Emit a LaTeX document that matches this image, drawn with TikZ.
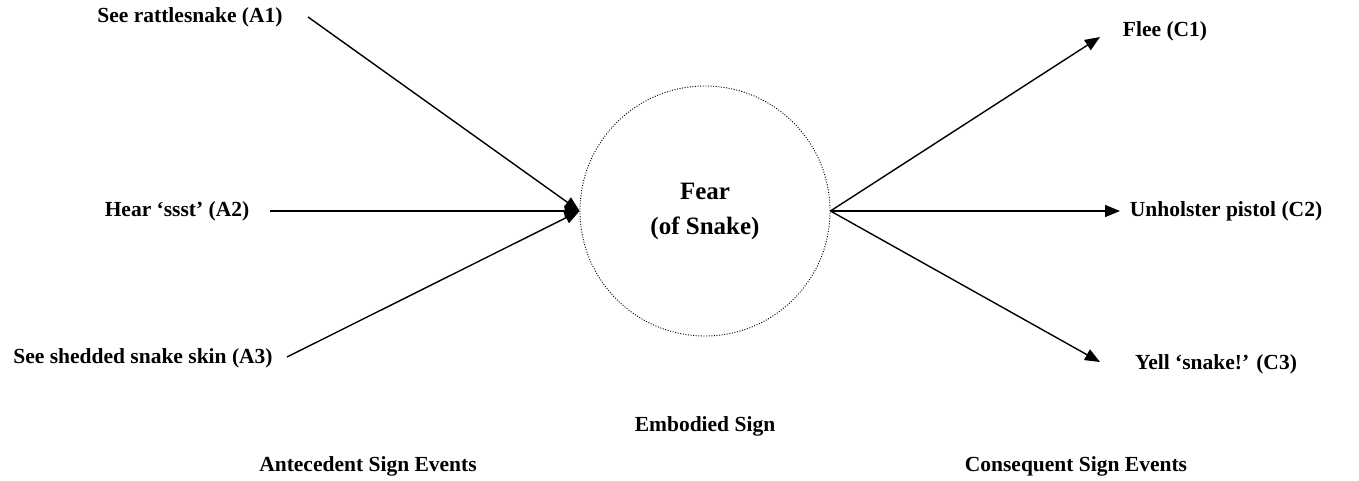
\documentclass[tikz,border=0pt]{standalone}
\usepackage{fontspec}
\setmainfont{Liberation Serif}
\usetikzlibrary{arrows.meta}
\begin{document}
\begin{tikzpicture}[x=1pt,y=-1pt,
  lbl/.style={font=\fontsize{21.5}{35}\selectfont\bfseries, inner sep=0pt, anchor=center},
  big/.style={font=\fontsize{25}{35}\selectfont\bfseries, inner sep=0pt, anchor=center},
  conn/.style={line width=1.4pt, -{Triangle[length=15pt,width=12pt]}},
  plain/.style={line width=1.4pt}]
\useasboundingbox (0,0) rectangle (1359,481);
% labels
\node[lbl] (a1) at (190,17) {See rattlesnake (A1)};
\node[lbl] (a2) at (177,211) {Hear ‘ssst’ (A2)};
\node[lbl] (a3) at (143,358) {See shedded snake skin (A3)};
\node[lbl] (c1) at (1165,31) {Flee (C1)};
\node[lbl] (c2) at (1226,211) {Unholster pistol (C2)};
\node[lbl] (c3) at (1216,364) {Yell ‘snake!’ (C3)};
\node[lbl] (emb) at (705,426) {Embodied Sign};
\node[lbl] (ant) at (368,466) {Antecedent Sign Events};
\node[lbl] (con) at (1076,466) {Consequent Sign Events};
% circle
\node[circle, minimum size=250pt, inner sep=0pt, draw, line width=0.9pt,
      dash pattern=on 1pt off 1.6pt] (fear) at (705,211) {};
\node[big, align=center] (feartext) at (fear.center) {Fear\\(of Snake)};
% start / end points
\coordinate (a1s) at (308,17);
\coordinate (a2s) at (270,211);
\coordinate (a3s) at (287,357);
\coordinate (c1e) at (1100,37);
\coordinate (c2e) at (1120,211);
\coordinate (c3e) at (1100,362);
% connectors
\draw[conn] (a1s) -- (fear.west);
\draw[conn] (a2s) -- (fear.west);
\draw[conn] (a3s) -- (fear.west);
\draw[conn] (fear.east) -- (c1e);
\draw[conn] (fear.east) -- (c2e);
\draw[conn] (fear.east) -- (c3e);
\end{tikzpicture}
\end{document}
